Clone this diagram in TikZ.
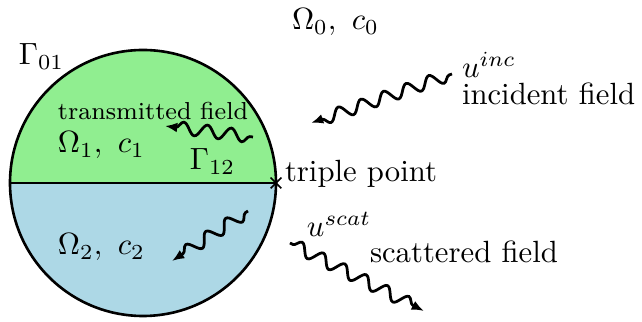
\documentclass[tikz,border=0pt]{standalone}
\usetikzlibrary{decorations.pathmorphing,arrows.meta,shapes.misc}
\definecolor{regA}{RGB}{144,238,144}
\definecolor{regB}{RGB}{173,216,230}
\begin{document}
\begin{tikzpicture}[x=0.3257pt,y=-0.3257pt,
  wave/.style={line width=0.9pt,-{Latex[length=4pt,width=3.2pt]},
    decorate,decoration={snake,amplitude=2pt,segment length=7.8pt,pre length=1pt,post length=3pt}},
  lbl/.style={anchor=base west,inner sep=0pt,outer sep=0pt},
  smalllbl/.style={lbl,font=\footnotesize}]
\useasboundingbox (0,0) rectangle (642,322);
\coordinate (c) at (143,183);
\fill[regA] (10,183) arc[start angle=180,end angle=0,radius=133*0.3257pt] -- cycle;
\fill[regB] (10,183) arc[start angle=180,end angle=360,radius=133*0.3257pt] -- cycle;
\draw[line width=0.85pt] (c) circle[radius=133*0.3257pt];
\coordinate (L) at (10,183);
\node[cross out,draw,line width=0.5pt,minimum size=3pt,inner sep=0pt] (tp) at (276,183) {};
\draw[line width=0.85pt] (L) -- (tp.center);
% labels
\node[lbl] (g01) at (19,65) {$\Gamma_{01}$};
\node[lbl] (om0) at (292,30) {$\Omega_0,\ c_0$};
\node[lbl] (uinc) at (462,78) {$u^{inc}$};
\node[lbl] (incf) at (462,105) {incident field};
\node[smalllbl] (trf) at (58,120) {transmitted field};
\node[lbl] (om1) at (58,153) {$\Omega_1,\ c_1$};
\node[lbl] (g12) at (190,170) {$\Gamma_{12}$};
\node[lbl] (tpl) at (285,182) {triple point};
\node[lbl] (om2) at (58,255) {$\Omega_2,\ c_2$};
\node[lbl] (uscat) at (307,237) {$u^{scat}$};
\node[lbl] (scf) at (370,263) {scattered field};
% waves
\coordinate (i1) at (452,74);
\coordinate (i2) at (311,123);
\coordinate (t1) at (253,137);
\coordinate (t2) at (165,126);
\coordinate (b1) at (248,211);
\coordinate (b2) at (172,261);
\coordinate (s1) at (290,243);
\coordinate (s2) at (424,311);
\draw[wave] (i1) -- (i2);
\draw[wave] (t1) -- (t2);
\draw[wave] (b1) -- (b2);
\draw[wave] (s1) -- (s2);
\end{tikzpicture}
\end{document}
